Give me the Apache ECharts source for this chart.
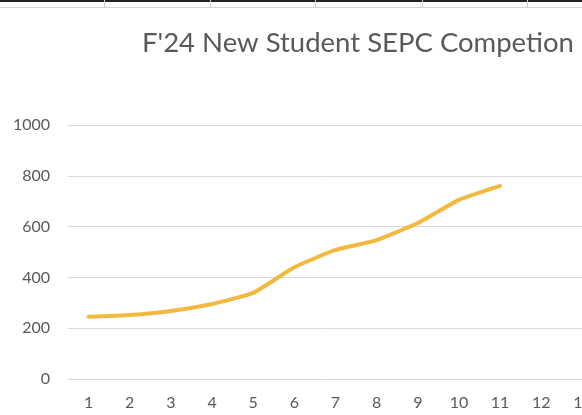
<!DOCTYPE html>
<html>
<head>
<meta charset="utf-8">
<script src="https://cdn.jsdelivr.net/npm/echarts@6/dist/echarts.min.js"></script>
<style>
  html, body { margin: 0; padding: 0; background: #fff; }
  #main-chart { width: 582px; height: 415px; }
</style>
</head>
<body>
<div id="main-chart"></div>
<script>
// weeks shown on the x axis (chart runs past the right edge)
const weeks = ['1', '2', '3', '4', '5', '6', '7', '8', '9', '10', '11', '12', '13'];
// running total of students
const students = [245, 252, 268, 295, 339, 440, 508, 547, 614, 705, 760, null, null];

const titleText = "F'24 New Student SEPC Competion";

const myChart = echarts.init(document.getElementById('main-chart'));

const option = {
    animation: false,
    title: {
        text: titleText,
        left: 137,
        top: 24,
        textStyle: {
            color: '#595959',
            fontFamily: 'Lato',
            fontWeight: 'normal',
            fontSize: 27.5,
        },
    },
    grid: {
        left: 68,
        top: 125,
        width: 535,
        bottom: 36,
        containLabel: false,
        outerBoundsMode: 'none',
    },
    xAxis: {
        type: 'category',
        data: weeks,
        boundaryGap: true,
        axisLine: { show: false },
        axisTick: { show: false },
        axisLabel: {
            color: '#595959',
            fontFamily: 'Lato',
            fontSize: 16,
            margin: 16,
            interval: 0,
        },
    },
    yAxis: {
        type: 'value',
        min: 0,
        max: 1000,
        interval: 200,
        axisLine: { show: false },
        axisTick: { show: false },
        axisLabel: {
            color: '#595959',
            fontFamily: 'Lato',
            fontSize: 16,
            margin: 18,
            formatter: function (v) { return String(v); },
        },
        splitLine: {
            lineStyle: { color: '#d9d9d9', width: 1 },
        },
    },
    series: [{
        type: 'line',
        data: students,
        symbol: 'none',
        smooth: 0.15,
        lineStyle: {
            color: '#f4b841',
            width: 4,
            cap: 'round',
        },
    }],
    // spreadsheet cell borders peeking in above the chart
    graphic: [
        { type: 'rect', shape: { x: 0, y: 0, width: 582, height: 2 }, style: { fill: '#222' } },
        { type: 'line', shape: { x1: 0, y1: 7.5, x2: 582, y2: 7.5 }, style: { stroke: '#d4d4d4', lineWidth: 1 } },
        { type: 'line', shape: { x1: 104.5, y1: 0, x2: 104.5, y2: 8 }, style: { stroke: '#d4d4d4', lineWidth: 1 } },
        { type: 'line', shape: { x1: 210.5, y1: 0, x2: 210.5, y2: 8 }, style: { stroke: '#d4d4d4', lineWidth: 1 } },
        { type: 'line', shape: { x1: 315.5, y1: 0, x2: 315.5, y2: 8 }, style: { stroke: '#d4d4d4', lineWidth: 1 } },
        { type: 'line', shape: { x1: 422.5, y1: 0, x2: 422.5, y2: 8 }, style: { stroke: '#d4d4d4', lineWidth: 1 } },
        { type: 'line', shape: { x1: 527.5, y1: 0, x2: 527.5, y2: 8 }, style: { stroke: '#d4d4d4', lineWidth: 1 } },
    ],
};

myChart.setOption(option);
</script>
</body>
</html>
